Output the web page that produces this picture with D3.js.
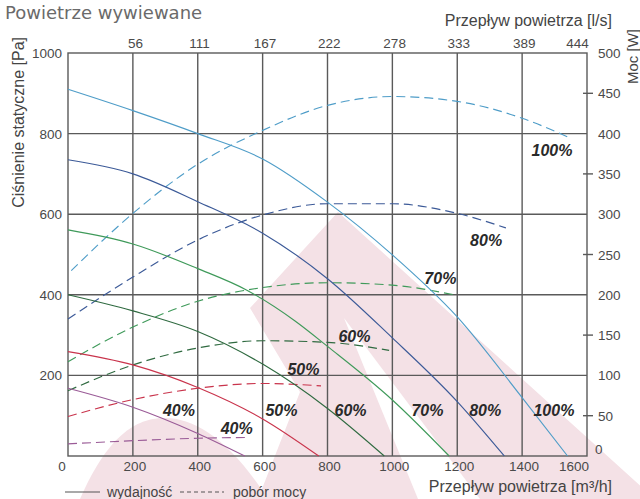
<!DOCTYPE html>
<html>
<head>
<meta charset="utf-8">
<script src="https://cdn.jsdelivr.net/npm/d3@7"></script>
<style>
    body { margin: 0; background: #fff; }
    svg text { font-family: "Liberation Sans", Arial, sans-serif; }
    .narrow { font-family: "Liberation Sans Narrow", "Liberation Sans", sans-serif; font-stretch: condensed; }
</style>
</head>
<body>
<svg id="chart" width="640" height="499"></svg>
<script>
// axes
let flowTicks = [0, 200, 400, 600, 800, 1000, 1200, 1400, 1600];
let pressureTicks = [0, 200, 400, 600, 800, 1000];
let powerTicks = [0, 50, 100, 150, 200, 250, 300, 350, 400, 450, 500];
let lsTicks = [56, 111, 167, 222, 278, 333, 389, 444];

let speeds = ["100%", "80%", "70%", "60%", "50%", "40%"];
let colors = ["#4f9dc8", "#3c5a98", "#3f9a5a", "#2f6a40", "#c9344c", "#9a5b97"];

// wydajnosc: [m3/h, Pa]
let pressure100 = [[0, 910], [200, 857], [400, 800], [600, 737], [800, 630], [1000, 499], [1200, 345], [1400, 145], [1540, 0]];
let pressure80 = [[0, 735], [200, 700], [400, 631], [600, 553], [800, 440], [1000, 293], [1200, 135], [1345, 0]];
let pressure70 = [[0, 561], [200, 526], [400, 465], [550, 412], [700, 335], [800, 272], [1000, 139], [1175, 0]];
let pressure60 = [[0, 400], [200, 360], [400, 309], [600, 228], [800, 118], [975, 0]];
let pressure50 = [[0, 259], [200, 226], [400, 170], [600, 92], [773, 0]];
let pressure40 = [[0, 168], [200, 121], [400, 56], [545, 0]];

// pobor mocy: [m3/h, W]
let power100 = [[10, 230], [200, 301], [400, 362], [600, 404], [800, 435], [1000, 446], [1200, 440], [1400, 419], [1540, 396]];
let power80 = [[0, 170], [200, 222], [400, 268], [600, 299], [800, 313], [1000, 313], [1200, 301], [1350, 283]];
let power70 = [[0, 117], [200, 160], [400, 192], [600, 209], [800, 215], [1000, 212], [1190, 200]];
let power60 = [[0, 81], [200, 113], [400, 134], [600, 143], [800, 141], [990, 131]];
let power50 = [[0, 49], [200, 70], [400, 84], [600, 90], [780, 87]];
let power40 = [[0, 15], [200, 19], [400, 22], [560, 23]];

// label anchors in data units
let powerLabelFlow = [1492, 1289, 1148, 883, 726, 520];
let powerLabelPa = [759, 536, 442, 298, 216, 69];
let pressureLabelFlow = [1498, 1286, 1108, 871, 658, 342];
let pressureLabelPa = 114;

let pressures = [pressure100, pressure80, pressure70, pressure60, pressure50, pressure40];
let powers = [power100, power80, power70, power60, power50, power40];

let svg = d3.select("#chart");

let x = d3.scaleLinear().domain([0, 1600]).range([68, 587]);
let xLs = d3.scaleLinear().domain([0, 1600 / 3.6]).range([68, 587]);
let y = d3.scaleLinear().domain([0, 1000]).range([456, 53]);
let yW = d3.scaleLinear().domain([0, 500]).range([456, 53]);

// watermark
let pink = "#f4e1e6";
let wm = svg.append("g");
wm.append("path")
    .attr("d", "M338,212 L655,499 L258,499 L300,392 L250,308 Z")
    .attr("fill", pink);
wm.append("path")
    .attr("d", "M344,318 L480,499 L418,499 Z")
    .attr("fill", "#fff");
wm.append("path")
    .attr("d", "M80,499 C110,430 140,418 165,418 C195,418 230,440 268,499 Z")
    .attr("fill", pink);

// grid
let grid = svg.append("g").attr("stroke", "#5a5a5a").attr("stroke-width", 1.4);
grid.selectAll(".vg")
    .data(flowTicks.slice(1, -1))
    .enter().append("line")
    .attr("x1", d => x(d)).attr("x2", d => x(d))
    .attr("y1", y(1000)).attr("y2", y(0));
grid.selectAll(".hg")
    .data(pressureTicks.slice(1, -1))
    .enter().append("line")
    .attr("x1", x(0)).attr("x2", x(1600))
    .attr("y1", d => y(d)).attr("y2", d => y(d));
grid.append("rect")
    .attr("x", x(0)).attr("y", y(1000))
    .attr("width", x(1600) - x(0)).attr("height", y(0) - y(1000))
    .attr("fill", "none");
grid.selectAll(".mt")
    .data(powerTicks.filter(d => d % 100 != 0))
    .enter().append("line")
    .attr("x1", x(1600) - 4).attr("x2", x(1600) + 6)
    .attr("y1", d => yW(d)).attr("y2", d => yW(d));

// tick labels
let tickColor = "#4a4a4a";
svg.append("g").selectAll("text")
    .data(pressureTicks.slice(1))
    .enter().append("text")
    .attr("x", 62).attr("y", d => y(d) + 5)
    .attr("text-anchor", "end").attr("font-size", 13.5).attr("fill", tickColor)
    .text(d => d);
svg.append("g").selectAll("text")
    .data(flowTicks)
    .enter().append("text")
    .attr("x", (d, i) => i == 0 ? x(d) - 6 : (i == flowTicks.length - 1 ? x(d) - 13 : x(d) + 2))
    .attr("y", 471)
    .attr("text-anchor", "middle").attr("font-size", 13.5).attr("fill", tickColor)
    .text(d => d);
svg.append("g").selectAll("text")
    .data(lsTicks)
    .enter().append("text")
    .attr("x", (d, i) => i == lsTicks.length - 1 ? xLs(d) - 9 : xLs(d) + 2)
    .attr("y", 48)
    .attr("text-anchor", "middle").attr("font-size", 13.5).attr("fill", tickColor)
    .text(d => d);
svg.append("g").selectAll("text")
    .data(powerTicks)
    .enter().append("text")
    .attr("x", d => d == 0 ? 595 : 598).attr("y", d => d == 0 ? yW(d) - 2 : yW(d) + 5)
    .attr("font-size", 13.5).attr("fill", tickColor)
    .text(d => d);

// curves
let line = d3.line()
    .x(d => x(d[0]))
    .y(d => y(d[1]))
    .curve(d3.curveMonotoneX);
let lineW = d3.line()
    .x(d => x(d[0]))
    .y(d => yW(d[1]))
    .curve(d3.curveMonotoneX);

let curves = svg.append("g").attr("fill", "none").attr("stroke-width", 1.15);
powers.forEach(function (s, i) {
    curves.append("path")
        .attr("d", lineW(s))
        .attr("stroke", colors[i])
        .attr("stroke-dasharray", "9,5");
});
pressures.forEach(function (s, i) {
    curves.append("path")
        .attr("d", line(s))
        .attr("stroke", colors[i]);
});

// curve labels
let labels = svg.append("g")
    .attr("font-size", 16).attr("font-weight", "bold").attr("font-style", "italic")
    .attr("fill", "#2a2a2a").attr("text-anchor", "middle");
speeds.forEach(function (s, i) {
    labels.append("text")
        .attr("x", x(powerLabelFlow[i])).attr("y", y(powerLabelPa[i]) + 6)
        .text(s);
    labels.append("text")
        .attr("x", x(pressureLabelFlow[i])).attr("y", y(pressureLabelPa) + 6)
        .text(s);
});

// titles
svg.append("text")
    .attr("x", 5).attr("y", 19)
    .attr("font-size", 18).attr("fill", "#6a6a6a")
    .style("font-family", "'DejaVu Sans', sans-serif")
    .text("Powietrze wywiewane");

let titleColor = "#444";
svg.append("text").attr("class", "narrow")
    .attr("x", 612).attr("y", 26)
    .attr("text-anchor", "end").attr("font-size", 16).attr("fill", titleColor)
    .text("Przepływ powietrza [l/s]");
svg.append("text").attr("class", "narrow")
    .attr("x", 612).attr("y", 492)
    .attr("text-anchor", "end").attr("font-size", 16).attr("fill", titleColor)
    .text("Przepływ powietrza [m³/h]");
svg.append("text").attr("class", "narrow")
    .attr("transform", "translate(24,37) rotate(-90)")
    .attr("text-anchor", "end").attr("font-size", 16).attr("fill", titleColor)
    .text("Ciśnienie statyczne [Pa]");
svg.append("text").attr("class", "narrow")
    .attr("transform", "translate(638,84) rotate(-90)")
    .attr("font-size", 15).attr("fill", titleColor)
    .text("Moc [W]");

// legend
let legend = svg.append("g");
legend.append("line")
    .attr("x1", 65).attr("x2", 100).attr("y1", 492).attr("y2", 492)
    .attr("stroke", "#555").attr("stroke-width", 1.2);
legend.append("text").attr("class", "narrow")
    .attr("x", 107).attr("y", 497).attr("font-size", 14).attr("fill", titleColor)
    .text("wydajność");
legend.append("line")
    .attr("x1", 180).attr("x2", 224).attr("y1", 492).attr("y2", 492)
    .attr("stroke", "#555").attr("stroke-width", 1.2).attr("stroke-dasharray", "4,3");
legend.append("text").attr("class", "narrow")
    .attr("x", 233).attr("y", 497).attr("font-size", 14).attr("fill", titleColor)
    .text("pobór mocy");
</script>
</body>
</html>
